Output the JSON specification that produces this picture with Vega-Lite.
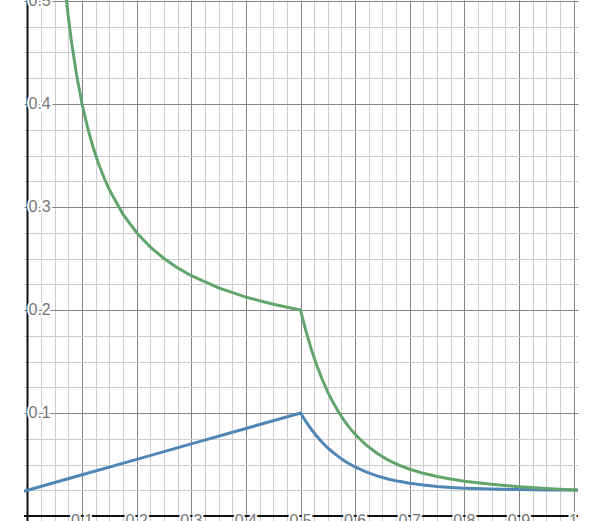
{
  "$schema": "https://vega.github.io/schema/vega-lite/v6.json",
  "width": 554,
  "height": 521,
  "autosize": {"type": "none"},
  "padding": {"left": 24, "right": 22, "top": 0, "bottom": 0},
  "background": "white",
  "config": {"view": {"stroke": null}},
  "datasets": {
    "curves": [
      {"x": -0.01, "y": 0.0235, "series": "blue"},
      {"x": 0, "y": 0.025, "series": "blue"},
      {"x": 0.1, "y": 0.04, "series": "blue"},
      {"x": 0.2, "y": 0.055, "series": "blue"},
      {"x": 0.3, "y": 0.07, "series": "blue"},
      {"x": 0.4, "y": 0.085, "series": "blue"},
      {"x": 0.5, "y": 0.1, "series": "blue"},
      {"x": 0.51, "y": 0.09152, "series": "blue"},
      {"x": 0.52, "y": 0.084, "series": "blue"},
      {"x": 0.53, "y": 0.07733, "series": "blue"},
      {"x": 0.54, "y": 0.07141, "series": "blue"},
      {"x": 0.55, "y": 0.06616, "series": "blue"},
      {"x": 0.56, "y": 0.06151, "series": "blue"},
      {"x": 0.57, "y": 0.05738, "series": "blue"},
      {"x": 0.58, "y": 0.05372, "series": "blue"},
      {"x": 0.59, "y": 0.05047, "series": "blue"},
      {"x": 0.6, "y": 0.04759, "series": "blue"},
      {"x": 0.62, "y": 0.04277, "series": "blue"},
      {"x": 0.64, "y": 0.03898, "series": "blue"},
      {"x": 0.66, "y": 0.036, "series": "blue"},
      {"x": 0.68, "y": 0.03365, "series": "blue"},
      {"x": 0.7, "y": 0.0318, "series": "blue"},
      {"x": 0.725, "y": 0.03004, "series": "blue"},
      {"x": 0.75, "y": 0.02873, "series": "blue"},
      {"x": 0.775, "y": 0.02777, "series": "blue"},
      {"x": 0.8, "y": 0.02705, "series": "blue"},
      {"x": 0.85, "y": 0.02613, "series": "blue"},
      {"x": 0.9, "y": 0.02562, "series": "blue"},
      {"x": 0.95, "y": 0.02534, "series": "blue"},
      {"x": 1.0, "y": 0.02519, "series": "blue"},
      {"x": 1.01, "y": 0.02516, "series": "blue"},
      {"x": 0.065, "y": 0.5346, "series": "green"},
      {"x": 0.07, "y": 0.5071, "series": "green"},
      {"x": 0.075, "y": 0.4833, "series": "green"},
      {"x": 0.08, "y": 0.4625, "series": "green"},
      {"x": 0.09, "y": 0.4278, "series": "green"},
      {"x": 0.1, "y": 0.4, "series": "green"},
      {"x": 0.11, "y": 0.3773, "series": "green"},
      {"x": 0.12, "y": 0.3583, "series": "green"},
      {"x": 0.13, "y": 0.3423, "series": "green"},
      {"x": 0.14, "y": 0.3286, "series": "green"},
      {"x": 0.15, "y": 0.3167, "series": "green"},
      {"x": 0.175, "y": 0.2929, "series": "green"},
      {"x": 0.2, "y": 0.275, "series": "green"},
      {"x": 0.225, "y": 0.2611, "series": "green"},
      {"x": 0.25, "y": 0.25, "series": "green"},
      {"x": 0.275, "y": 0.2409, "series": "green"},
      {"x": 0.3, "y": 0.2333, "series": "green"},
      {"x": 0.35, "y": 0.2214, "series": "green"},
      {"x": 0.4, "y": 0.2125, "series": "green"},
      {"x": 0.45, "y": 0.2056, "series": "green"},
      {"x": 0.5, "y": 0.2, "series": "green"},
      {"x": 0.51, "y": 0.17945, "series": "green"},
      {"x": 0.52, "y": 0.16154, "series": "green"},
      {"x": 0.53, "y": 0.1459, "series": "green"},
      {"x": 0.54, "y": 0.13224, "series": "green"},
      {"x": 0.55, "y": 0.12029, "series": "green"},
      {"x": 0.56, "y": 0.10984, "series": "green"},
      {"x": 0.57, "y": 0.10067, "series": "green"},
      {"x": 0.58, "y": 0.09262, "series": "green"},
      {"x": 0.59, "y": 0.08554, "series": "green"},
      {"x": 0.6, "y": 0.07932, "series": "green"},
      {"x": 0.62, "y": 0.06898, "series": "green"},
      {"x": 0.64, "y": 0.06091, "series": "green"},
      {"x": 0.66, "y": 0.05455, "series": "green"},
      {"x": 0.68, "y": 0.04948, "series": "green"},
      {"x": 0.7, "y": 0.04543, "series": "green"},
      {"x": 0.725, "y": 0.04143, "series": "green"},
      {"x": 0.75, "y": 0.03831, "series": "green"},
      {"x": 0.775, "y": 0.03583, "series": "green"},
      {"x": 0.8, "y": 0.03381, "series": "green"},
      {"x": 0.85, "y": 0.03074, "series": "green"},
      {"x": 0.9, "y": 0.02847, "series": "green"},
      {"x": 0.95, "y": 0.02667, "series": "green"},
      {"x": 1.0, "y": 0.02519, "series": "green"},
      {"x": 1.01, "y": 0.02491, "series": "green"}
    ],
    "ylabels": [
      {"v": 0.1, "t": "0.1"},
      {"v": 0.2, "t": "0.2"},
      {"v": 0.3, "t": "0.3"},
      {"v": 0.4, "t": "0.4"},
      {"v": 0.5, "t": "0.5"}
    ],
    "xlabels": [
      {"v": 0.1, "t": "0.1"},
      {"v": 0.2, "t": "0.2"},
      {"v": 0.3, "t": "0.3"},
      {"v": 0.4, "t": "0.4"},
      {"v": 0.5, "t": "0.5"},
      {"v": 0.6, "t": "0.6"},
      {"v": 0.7, "t": "0.7"},
      {"v": 0.8, "t": "0.8"},
      {"v": 0.9, "t": "0.9"},
      {"v": 1.0, "t": "1"}
    ],
    "origin": [{"v": 0}]
  },
  "layer": [
    {
      "data": {"name": "curves"},
      "mark": {"type": "line", "strokeWidth": 3, "clip": true, "opacity": 0},
      "encoding": {
        "x": {
          "field": "x",
          "type": "quantitative",
          "scale": {"domain": [-0.0064, 1.0082], "nice": false, "zero": false},
          "axis": {
            "values": [0.025, 0.05, 0.075, 0.125, 0.15, 0.175, 0.225, 0.25, 0.275, 0.325, 0.35, 0.375, 0.425, 0.45, 0.475, 0.525, 0.55, 0.575, 0.625, 0.65, 0.675, 0.725, 0.75, 0.775, 0.825, 0.85, 0.875, 0.925, 0.95, 0.975],
            "grid": true,
            "gridColor": "#cccccc",
            "gridWidth": 1,
            "labels": false,
            "ticks": false,
            "domain": false,
            "title": null
          }
        },
        "y": {
          "field": "y",
          "type": "quantitative",
          "scale": {"domain": [-0.00485, 0.50097], "nice": false, "zero": false},
          "axis": {
            "values": [0.025, 0.05, 0.075, 0.125, 0.15, 0.175, 0.225, 0.25, 0.275, 0.325, 0.35, 0.375, 0.425, 0.45, 0.475],
            "grid": true,
            "gridColor": "#cccccc",
            "gridWidth": 1,
            "labels": false,
            "ticks": false,
            "domain": false,
            "title": null
          }
        },
        "detail": {"field": "series"}
      }
    },
    {
      "data": {"name": "xlabels"},
      "mark": {"type": "text", "opacity": 0},
      "encoding": {
        "x": {
          "field": "v",
          "type": "quantitative",
          "axis": {
            "values": [0.1, 0.2, 0.3, 0.4, 0.5, 0.6, 0.7, 0.8, 0.9, 1.0],
            "grid": true,
            "gridColor": "#858585",
            "gridWidth": 1,
            "labels": false,
            "ticks": false,
            "domain": false,
            "title": null,
            "orient": "top"
          }
        },
        "y": {
          "field": "v",
          "type": "quantitative",
          "axis": {
            "values": [0.1, 0.2, 0.3, 0.4, 0.5],
            "grid": true,
            "gridColor": "#858585",
            "gridWidth": 1,
            "labels": false,
            "ticks": false,
            "domain": false,
            "title": null,
            "orient": "right"
          }
        },
        "text": {"field": "t"}
      }
    },
    {
      "data": {"name": "origin"},
      "mark": {"type": "rule", "color": "#111111", "strokeWidth": 2},
      "encoding": {
        "x": {"field": "v", "type": "quantitative", "axis": null}
      }
    },
    {
      "data": {"name": "origin"},
      "mark": {"type": "rule", "color": "#111111", "strokeWidth": 2},
      "encoding": {
        "y": {"field": "v", "type": "quantitative", "axis": null}
      }
    },
    {
      "data": {"name": "ylabels"},
      "mark": {"type": "text", "align": "left", "baseline": "middle", "dx": 1, "fontSize": 16, "font": "Liberation Sans", "color": "white", "stroke": "white", "strokeWidth": 4},
      "encoding": {
        "x": {"datum": 0, "type": "quantitative", "axis": null},
        "y": {"field": "v", "type": "quantitative", "axis": null},
        "text": {"field": "t"}
      }
    },
    {
      "data": {"name": "ylabels"},
      "mark": {"type": "text", "align": "left", "baseline": "middle", "dx": 1, "fontSize": 16, "font": "Liberation Sans", "color": "#777777"},
      "encoding": {
        "x": {"datum": 0, "type": "quantitative", "axis": null},
        "y": {"field": "v", "type": "quantitative", "axis": null},
        "text": {"field": "t"}
      }
    },
    {
      "data": {"name": "xlabels"},
      "mark": {"type": "text", "align": "center", "baseline": "top", "dy": -3, "fontSize": 16, "font": "Liberation Sans", "color": "white", "stroke": "white", "strokeWidth": 4},
      "encoding": {
        "x": {"field": "v", "type": "quantitative", "axis": null},
        "y": {"datum": 0, "type": "quantitative", "axis": null},
        "text": {"field": "t"}
      }
    },
    {
      "data": {"name": "xlabels"},
      "mark": {"type": "text", "align": "center", "baseline": "top", "dy": -3, "fontSize": 16, "font": "Liberation Sans", "color": "#777777"},
      "encoding": {
        "x": {"field": "v", "type": "quantitative", "axis": null},
        "y": {"datum": 0, "type": "quantitative", "axis": null},
        "text": {"field": "t"}
      }
    },
    {
      "data": {"name": "curves"},
      "mark": {"type": "line", "strokeWidth": 3, "clip": true},
      "encoding": {
        "x": {"field": "x", "type": "quantitative", "axis": null},
        "y": {"field": "y", "type": "quantitative", "axis": null},
        "color": {"field": "series", "type": "nominal", "scale": {"domain": ["blue", "green"], "range": ["#4f86b6", "#61a56c"]}, "legend": null}
      }
    }
  ],
  "resolve": {"axis": {"x": "independent", "y": "independent"}}
}
